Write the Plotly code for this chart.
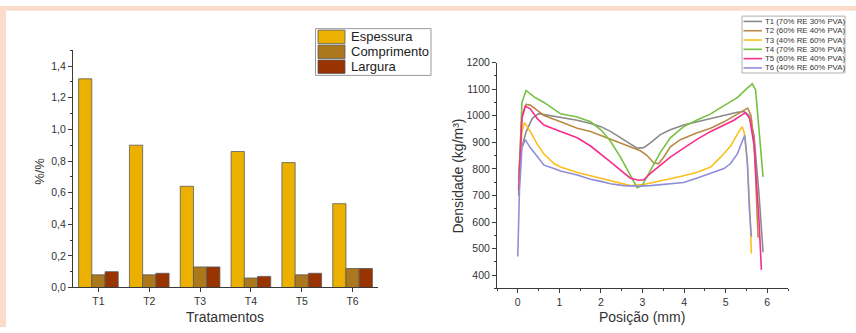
import plotly.graph_objects as go

W, H = 856, 333

# ---------------- data: left chart ----------------
treatments = ["T1", "T2", "T3", "T4", "T5", "T6"]
bar_names = ["Espessura", "Comprimento", "Largura"]
espessura = [1.32, 0.90, 0.64, 0.86, 0.79, 0.53]
comprimento = [0.08, 0.08, 0.13, 0.06, 0.08, 0.12]
largura = [0.10, 0.09, 0.13, 0.07, 0.09, 0.12]
bar_colors = ["#ECB100", "#AC781E", "#993300"]

# ---------------- data: right chart ----------------
line_names = ["T1 (70% RE 30% PVA)", "T2 (60% RE 40% PVA)", "T3 (40% RE 60% PVA)",
              "T4 (70% RE 30% PVA)", "T5 (60% RE 40% PVA)", "T6 (40% RE 60% PVA)"]
line_colors = ["#8A8A8A", "#B98A45", "#FBBF1E", "#76C142", "#F72C8C", "#8E8ED8"]

t1_x = [0.02, 0.08, 0.2, 0.35, 0.5, 0.7, 1.03, 1.43, 1.75, 2.0, 2.23, 2.47, 2.71, 2.87, 3.03, 3.19, 3.43, 3.67, 3.99, 4.3, 4.64, 4.96, 5.28, 5.44, 5.56, 5.68, 5.8, 5.9]
t1_y = [700, 870, 940, 990, 1008, 1003, 995, 983, 971, 959, 941, 917, 892, 878, 880, 898, 929, 947, 965, 977, 989, 1001, 1013, 1016, 1001, 929, 710, 486]

t2_x = [0.02, 0.1, 0.2, 0.3, 0.47, 0.63, 1.03, 1.43, 1.75, 2.0, 2.23, 2.47, 2.71, 2.95, 3.11, 3.27, 3.39, 3.51, 3.67, 3.91, 4.3, 4.64, 4.96, 5.2, 5.44, 5.53, 5.61, 5.69, 5.78]
t2_y = [760, 1000, 1043, 1040, 1020, 1001, 977, 953, 941, 926, 914, 898, 883, 868, 850, 822, 820, 844, 883, 910, 935, 953, 977, 999, 1020, 1029, 1001, 892, 541]

t3_x = [0.02, 0.1, 0.16, 0.3, 0.47, 0.63, 0.87, 1.03, 1.43, 1.75, 2.0, 2.23, 2.47, 2.71, 3.03, 3.27, 3.59, 3.91, 4.3, 4.64, 4.88, 5.12, 5.32, 5.4, 5.45, 5.53, 5.58, 5.62]
t3_y = [720, 940, 974, 941, 892, 856, 820, 807, 786, 773, 765, 755, 744, 737, 741, 749, 759, 771, 786, 807, 844, 886, 941, 959, 935, 807, 650, 481]

t4_x = [0.03, 0.1, 0.2, 0.4, 0.63, 1.03, 1.43, 1.75, 2.0, 2.23, 2.47, 2.71, 2.87, 2.99, 3.19, 3.43, 3.67, 3.99, 4.3, 4.64, 4.96, 5.28, 5.52, 5.64, 5.72, 5.8, 5.9]
t4_y = [760, 1050, 1095, 1070, 1050, 1007, 995, 977, 947, 904, 844, 777, 729, 737, 795, 862, 917, 959, 983, 1007, 1038, 1068, 1104, 1120, 1098, 953, 770]

t5_x = [0.02, 0.1, 0.18, 0.3, 0.47, 0.63, 1.03, 1.43, 1.75, 2.0, 2.23, 2.47, 2.71, 2.91, 3.03, 3.19, 3.43, 3.67, 3.99, 4.3, 4.64, 4.96, 5.2, 5.4, 5.48, 5.58, 5.68, 5.8, 5.86]
t5_y = [720, 990, 1036, 1026, 989, 965, 941, 917, 886, 856, 826, 795, 765, 757, 759, 783, 814, 844, 878, 910, 941, 965, 983, 1004, 1011, 989, 892, 614, 420]

t6_x = [0.0, 0.04, 0.1, 0.18, 0.3, 0.47, 0.63, 0.87, 1.03, 1.43, 1.75, 2.0, 2.23, 2.55, 2.87, 3.19, 3.59, 3.99, 4.3, 4.64, 4.96, 5.12, 5.28, 5.4, 5.46, 5.52, 5.57, 5.62]
t6_y = [470, 720, 880, 910, 880, 844, 814, 801, 792, 777, 761, 753, 744, 737, 735, 737, 743, 749, 765, 783, 801, 820, 856, 904, 926, 832, 650, 545]

line_x = [t1_x, t2_x, t3_x, t4_x, t5_x, t6_x]
line_y = [t1_y, t2_y, t3_y, t4_y, t5_y, t6_y]

# ---------------- helpers (pixel -> paper) ----------------
def px(x):
    return x / W

def py(y):
    return 1 - y / H

FONT = "Arial, Liberation Sans, sans-serif"
AX = "#3a3a3a"
TXT = "#333333"

fig = go.Figure()

for name, vals, col in zip(bar_names, [espessura, comprimento, largura], bar_colors):
    fig.add_trace(go.Bar(x=treatments, y=vals, name=name, marker=dict(color=col, line=dict(color="#5a5a5a", width=0.8)),
                         xaxis="x", yaxis="y", showlegend=False))

for name, xs, ys, col in zip(line_names, line_x, line_y, line_colors):
    fig.add_trace(go.Scatter(x=xs, y=ys, name=name, mode="lines", line=dict(color=col, width=1.6),
                             xaxis="x2", yaxis="y2", showlegend=False))

axis_common = dict(showline=True, linecolor=AX, linewidth=1, showgrid=False, zeroline=False,
                   ticks="outside", ticklen=4, tickcolor=AX, tickwidth=1,
                   tickfont=dict(family=FONT, size=10.5, color=TXT), mirror=False)

fig.update_layout(
    width=W, height=H, margin=dict(l=0, r=0, t=0, b=0),
    paper_bgcolor="white", plot_bgcolor="white",
    separators=",.", barmode="group", bargap=0.22, bargroupgap=0,
    showlegend=False,
    xaxis=dict(domain=[px(73), px(378)], anchor="y", type="category", range=[-0.5, 5.5], **axis_common),
    yaxis=dict(domain=[py(292), py(46)], anchor="x", range=[0, 1.5], tickmode="linear", tick0=0, dtick=0.2,
               tickformat=".1f", minor=dict(ticks="outside", ticklen=2, dtick=0.1, tickcolor=AX), **axis_common),
    xaxis2=dict(domain=[px(497), px(788)], anchor="y2", range=[-0.5, 6.5], tickmode="linear", tick0=0, dtick=1,
                minor=dict(ticks="outside", ticklen=2, dtick=0.5, tickcolor=AX), **axis_common),
    yaxis2=dict(domain=[py(293), py(58.7)], anchor="x2", range=[350, 1200], tickmode="linear", tick0=400, dtick=100,
                minor=dict(ticks="outside", ticklen=2, dtick=50, tickcolor=AX), **axis_common),
)

shapes = [
    dict(type="rect", xref="paper", yref="paper", x0=0, x1=px(6), y0=0, y1=1, fillcolor="#FBDCCB", line_width=0),
    dict(type="rect", xref="paper", yref="paper", x0=0, x1=1, y0=py(5), y1=1, fillcolor="#FBDCCB", line_width=0),
]
annotations = []

# axis titles
annotations += [
    dict(text="%/%", x=px(40), y=py(172), textangle=-90, font=dict(family=FONT, size=13, color=TXT)),
    dict(text="Tratamentos", x=px(225), y=py(323), font=dict(family=FONT, size=14, color=TXT)),
    dict(text="Densidade (kg/m³)", x=px(458), y=py(177), textangle=-90, font=dict(family=FONT, size=14, color=TXT)),
    dict(text="Posição (mm)", x=px(642), y=py(323), font=dict(family=FONT, size=14, color=TXT)),
]

# left legend (manual)
shapes.append(dict(type="rect", xref="paper", yref="paper", x0=px(315.5), x1=px(431), y0=py(72), y1=py(23.5),
                   fillcolor="white", line=dict(color="#9a9a9a", width=1)))
row_tops = [25, 40.5, 56]
for name, col, top in zip(bar_names, bar_colors, row_tops):
    shapes.append(dict(type="rect", xref="paper", yref="paper", x0=px(318), x1=px(345), y0=py(top + 14), y1=py(top),
                       fillcolor=col, line=dict(color="#5a5a5a", width=0.8)))
    annotations.append(dict(text=name, x=px(349), y=py(top + 7), xanchor="left",
                            font=dict(family=FONT, size=13, color="#222")))

# right legend (manual)
shapes.append(dict(type="rect", xref="paper", yref="paper", x0=px(742), x1=px(845), y0=py(69.5), y1=py(10.5),
                   fillcolor="white", line=dict(color="#b0b0b0", width=1)))
for i, (name, col) in enumerate(zip(line_names, line_colors)):
    yc = 16 + i * 9.65
    shapes.append(dict(type="line", xref="paper", yref="paper", x0=px(743.5), x1=px(762), y0=py(yc), y1=py(yc),
                       line=dict(color=col, width=1.6)))
    annotations.append(dict(text=name, x=px(763), y=py(yc), xanchor="left",
                            font=dict(family=FONT, size=7.8, color="#333")))

for a in annotations:
    a.update(xref="paper", yref="paper", showarrow=False)
    a.setdefault("xanchor", "center")
    a.setdefault("yanchor", "middle")

fig.update_layout(shapes=shapes, annotations=annotations)
fig.write_html("out.html", config={"displayModeBar": False},
               post_script="document.body.style.margin='0';document.body.style.padding='0';document.body.style.overflow='hidden';")
